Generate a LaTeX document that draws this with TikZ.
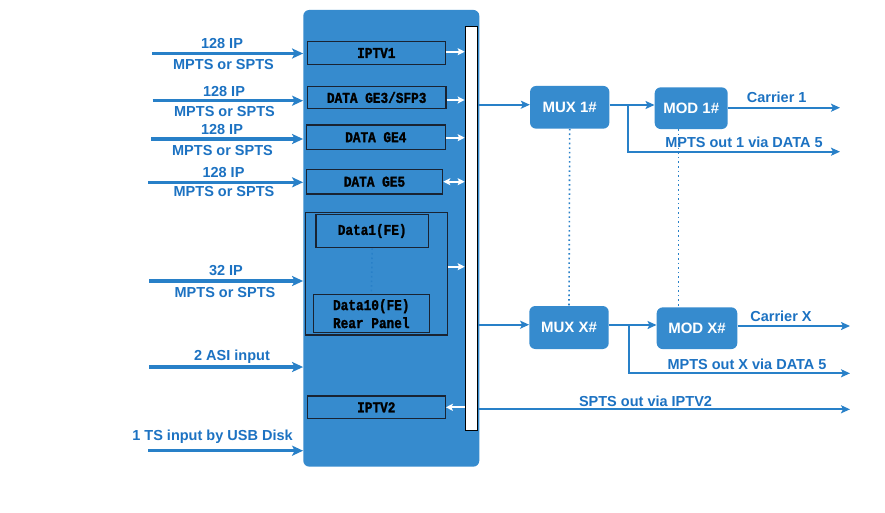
\documentclass[tikz,border=0pt]{standalone}
\usepackage{fontspec}
\setmainfont{Liberation Sans}
\newfontfamily\boxfont{Liberation Mono}[FakeStretch=0.85,FakeBold=1.5]
\usetikzlibrary{arrows.meta,calc}
\definecolor{mainblue}{RGB}{54,139,206}
\definecolor{txtblue}{RGB}{28,114,194}
\definecolor{lineblue}{RGB}{40,128,200}
\definecolor{edge}{RGB}{25,35,50}
\tikzset{
  mainbox/.style={draw=none,fill=mainblue,rounded corners=6pt,inner sep=0pt},
  bar/.style={draw=black,line width=1pt,fill=white,inner sep=0pt},
  portbox/.style={draw=edge,line width=1.2pt,fill=mainblue,inner sep=0pt,font=\boxfont\bfseries\fontsize{15}{17}\selectfont,text=black,align=center},
  grpbox/.style={draw=edge,line width=1.2pt,fill=none,inner sep=0pt},
  blkbox/.style={fill=mainblue,rounded corners=6pt,inner sep=0pt,text=white,font=\bfseries\fontsize{15}{17}\selectfont},
  lbl/.style={text=txtblue,font=\bfseries\fontsize{14.5}{16}\selectfont,inner sep=0pt},
  inarrow/.style={draw=lineblue,line width=3.2pt,-{Stealth[length=11pt,width=10pt,inset=2.5pt]}},
  outarrow/.style={draw=lineblue,line width=1.9pt,-{Stealth[length=9pt,width=8pt,inset=2pt]}},
  warrow/.style={draw=white,line width=2.2pt,-{Stealth[length=7pt,width=7pt,inset=1.5pt]}},
  wdarrow/.style={draw=white,line width=2.2pt,{Stealth[length=7pt,width=7pt,inset=1.5pt]}-{Stealth[length=7pt,width=7pt,inset=1.5pt]}},
  dotline/.style={draw=lineblue,line width=1.6pt,dash pattern=on 1.6pt off 3pt},
}
\begin{document}
\begin{tikzpicture}[x=1pt,y=-1pt]
\useasboundingbox (0,0) rectangle (885,512);
\fill[white] (0,0) rectangle (885,512);
% main box and bar
\node[mainbox,minimum width=176pt,minimum height=456.7pt] (main) at (391.3,238.3) {};
\node[bar,minimum width=12.5pt,minimum height=404pt] (bar) at (471.4,228) {};
% port boxes
\node[portbox,minimum width=138pt,minimum height=22.6pt] (iptv1) at (376.3,53) {IPTV1};
\node[portbox,minimum width=138.7pt,minimum height=22.4pt] (ge3) at (376.7,97.5) {DATA GE3/SFP3};
\node[portbox,minimum width=139pt,minimum height=24.3pt] (ge4) at (375.8,137.2) {DATA GE4};
\node[portbox,minimum width=136.4pt,minimum height=24.7pt] (ge5) at (374.5,181.7) {DATA GE5};
\node[grpbox,minimum width=141.6pt,minimum height=122.3pt] (grp) at (376.5,273.8) {};
\node[portbox,minimum width=112.3pt,minimum height=33.4pt] (d1) at (372.2,231) {Data1(FE)};
\node[portbox,minimum width=116pt,minimum height=38pt,font=\boxfont\bfseries\fontsize{15}{18}\selectfont] (d10) at (371.3,313.7) {Data10(FE)\\Rear Panel};
\node[portbox,minimum width=138pt,minimum height=22.7pt] (iptv2) at (376.3,407.3) {IPTV2};
\draw[dotline] (d1.south) -- (d10.north);
% white arrows to bar
\draw[warrow] (iptv1.east |- 0,51.7) -- (bar.west |- 0,51.7);
\draw[warrow] (ge3.east |- 0,100) -- (bar.west |- 0,100);
\draw[warrow] (ge4.east |- 0,137.7) -- (bar.west |- 0,137.7);
\draw[wdarrow] (ge5.east |- 0,181.7) -- (bar.west |- 0,181.7);
\draw[warrow] (grp.east |- 0,266.7) -- (bar.west |- 0,266.7);
\draw[warrow] (bar.west |- 0,407.3) -- (iptv2.east |- 0,407.3);
% inputs
\coordinate (in1) at (152,53.5);
\coordinate (in2) at (152.7,100.7);
\coordinate (in3) at (151,139);
\coordinate (in4) at (148,182.3);
\coordinate (in5) at (149,281);
\coordinate (in6) at (149,367);
\coordinate (in7) at (148,450.7);
\foreach \i in {1,...,7} {\draw[inarrow] (in\i) -- (in\i -| main.west);}
\node[lbl] (t1a) at (222,44) {128 IP};
\node[lbl] (t1b) at (223.5,64.5) {MPTS or SPTS};
\node[lbl] (t2a) at (224,91.5) {128 IP};
\node[lbl] (t2b) at (224.5,111.5) {MPTS or SPTS};
\node[lbl] (t3a) at (222,129.5) {128 IP};
\node[lbl] (t3b) at (222.5,150.5) {MPTS or SPTS};
\node[lbl] (t4a) at (223.5,172.5) {128 IP};
\node[lbl] (t4b) at (224,192) {MPTS or SPTS};
\node[lbl] (t5a) at (226,270.5) {32 IP};
\node[lbl] (t5b) at (225,293) {MPTS or SPTS};
\node[lbl] (t6) at (232,357) {2 ASI input};
\node[lbl] (t7) at (212.5,437) {1 TS input by USB Disk};
% right blocks
\node[blkbox,minimum width=79.3pt,minimum height=42.7pt] (mux1) at (569.7,107.3) {MUX 1\#};
\node[blkbox,minimum width=73pt,minimum height=41.7pt] (mod1) at (691.2,108.2) {MOD 1\#};
\node[blkbox,minimum width=79.4pt,minimum height=43pt] (muxx) at (569,327.5) {MUX X\#};
\node[blkbox,minimum width=80.6pt,minimum height=41.7pt] (modx) at (697,328.2) {MOD X\#};
\draw[dotline] (mux1.south) -- (muxx.north);
\draw[dotline] (mod1.south -| 678.3,0) -- (modx.north -| 678.3,0);
% bar -> mux
\draw[outarrow] (bar.east |- 0,104.7) -- (mux1.west |- 0,104.7);
\draw[outarrow] (bar.east |- 0,324.7) -- (muxx.west |- 0,324.7);
% mux -> mod
\draw[outarrow] (mux1.east |- 0,105) -- (mod1.west |- 0,105);
\draw[outarrow] (muxx.east |- 0,325) -- (modx.west |- 0,325);
% branches
\coordinate (b1) at (628.3,105);
\coordinate (e1) at (840,151.7);
\draw[outarrow] (b1) |- (e1);
\coordinate (bx) at (629.3,325);
\coordinate (ex) at (850,373.3);
\draw[outarrow] (bx) |- (ex);
% carriers
\coordinate (c1) at (840,107.7);
\coordinate (cx) at (850,326);
\draw[outarrow] (mod1.east |- c1) -- (c1);
\draw[outarrow] (modx.east |- cx) -- (cx);
% SPTS out
\coordinate (sp) at (850,409.3);
\draw[outarrow] (bar.east |- sp) -- (sp);
% right labels
\node[lbl] (lc1) at (776.7,97) {Carrier 1};
\node[lbl] (lm1) at (744,142.5) {MPTS out 1 via DATA 5};
\node[lbl] (lcx) at (781,316) {Carrier X};
\node[lbl] (lmx) at (747,364.7) {MPTS out X via DATA 5};
\node[lbl] (lsp) at (645.5,401) {SPTS out via IPTV2};
\end{tikzpicture}
\end{document}
